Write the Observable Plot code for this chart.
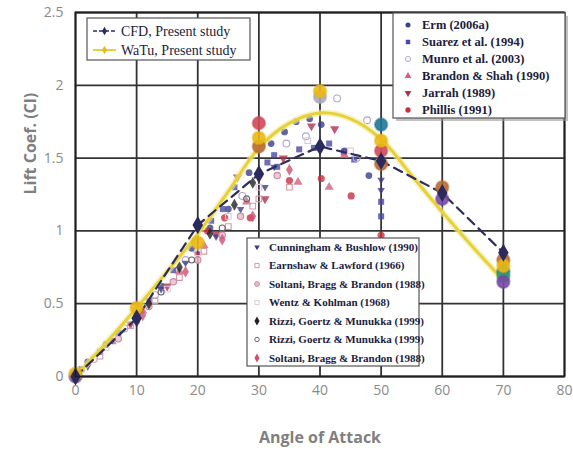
<!DOCTYPE html>
<html><head><meta charset="utf-8">
<script src="https://cdn.jsdelivr.net/npm/d3@7"></script>
<script src="https://cdn.jsdelivr.net/npm/@observablehq/plot@0.6"></script>
<style>body{margin:0;background:#fff}#chart{position:relative;width:573px;height:463px}</style>
</head><body><div id="chart"></div>
<script>
// ---- data (angle of attack, lift coefficient) ----
const xTicks = [0,10,20,30,40,50,60,70,80];
const yTicks = [0,0.5,1,1.5,2,2.5];

const cfd = [[0,0],[10,0.40],[20,1.04],[30,1.39],[40,1.58],[50,1.48],[60,1.26],[70,0.85]];
const watuCurve = [[0,0],[5,0.23],[10,0.47],[15,0.72],[20,0.98],[25,1.27],[30,1.57],[35,1.74],[40,1.81],[45,1.77],[50,1.63],[55,1.38],[60,1.13],[65,0.89],[70,0.66]];
const watuPts = [[0,0.02],[10,0.47],[20,0.92],[30,1.64],[40,1.96],[50,1.62],[70,0.76]];

const erm = [[2,0.1],[5,0.22],[10,0.45],[14,0.62],[19,0.88],[22,1.02],[25,1.15],[28.4,1.4],[32,1.6],[34.2,1.68],[36.1,1.75],[38.3,1.77],[40.2,1.73],[44,1.55],[48,1.38]];
const suarez = [[1,0.05],[4,0.17],[7,0.3],[12,0.52],[16,0.73],[22.2,1.07],[24.1,1.15],[26,1.3],[31.4,1.47],[32.5,1.52],[33,1.44],[36.6,1.56],[39,1.57],[41.5,1.6],[43.9,1.54],[45.6,1.49],[50,1.2],[50,1.1]];
const munro = [[3,0.12],[8,0.33],[13,0.56],[18,0.8],[27.3,1.24],[34.5,1.6],[37.7,1.65],[42.8,1.91],[46,1.5],[47.7,1.76]];
const brandon = [[6,0.24],[11,0.45],[17,0.72],[21,0.9],[28,1.2],[36.4,1.335],[41.5,1.3],[44,1.52]];
const jarrah = [[9,0.36],[15,0.62],[20,0.84],[23,0.98],[26.5,1.37],[31,1.22],[34,1.5],[38.6,1.72],[42.4,1.7]];
const phillis = [[21.6,1.0],[24.4,1.09],[28.6,1.09],[35,1.346],[40.2,1.36],[45.1,1.24],[50,0.97]];
const cunningham = [[2,0.07],[6,0.25],[10,0.42],[14,0.6],[18,0.78],[23,0.96],[27,1.15],[31,1.3],[32.5,1.44],[50,1.35],[50,1.28]];
const earnshaw = [[4,0.14],[9,0.35],[13,0.52],[17,0.68],[21,0.86],[25,1.03],[29,1.17],[30,1.22],[35,1.3]];
const soltani1 = [[7,0.26],[12,0.48],[16,0.65],[20,0.8],[24,0.97],[27,1.1],[33,1.38]];
const wentz = [[5,0.2],[10,0.38],[15,0.6],[20,0.85],[25,1.1],[30,1.3],[38,1.62],[45,1.55],[50,1.58]];
const rizzi1 = [[12,0.5],[17,0.75],[22,0.98],[26,1.18],[29,1.33]];
const rizzi2 = [[14,0.58],[19,0.8],[24,1.02],[28,1.22]];
const soltani2 = [[11,0.42],[18,0.72],[24,0.94],[29,1.1],[35,1.42]];

// large markers of other runs at the 10-degree stations
const runRed = [[30,1.74],[50,1.55]];
const runBrown = [[30,1.58],[50,1.46],[60,1.3],[70,0.8]];
const runTeal = [[50,1.73],[70,0.72]];
const runPurple = [[0,0],[60,1.22],[70,0.65]];
const runGray = [[40,1.92]];
const runGreen = [[70,0.69]];

const legendTop = ["Erm (2006a)","Suarez et al. (1994)","Munro et al. (2003)","Brandon & Shah (1990)","Jarrah (1989)","Phillis (1991)"];
const legendBottom = ["Cunningham & Bushlow (1990)","Earnshaw & Lawford (1966)","Soltani, Bragg & Brandon (1988)","Wentz & Kohlman (1968)","Rizzi, Goertz & Munukka (1999)","Rizzi, Goertz & Munukka (1999)","Soltani, Bragg & Brandon (1988)"];

// ---- styles ----
const S = {
  erm:{symbol:"circle",fill:"#3b3f8f",stroke:"none",r:3.4},
  suarez:{symbol:"square",fill:"#4848a6",stroke:"none",r:3.4},
  munro:{symbol:"circle",fill:"none",stroke:"#b6a6cc",r:3.4},
  brandon:{symbol:"triangle",fill:"#d2607e",stroke:"none",r:3.4},
  jarrah:{symbol:"triangle",fill:"#b03050",stroke:"none",r:3.4,rotate:180},
  phillis:{symbol:"circle",fill:"#c83040",stroke:"none",r:3.6},
  cunningham:{symbol:"triangle",fill:"#3e3e82",stroke:"none",r:2.8,rotate:180},
  earnshaw:{symbol:"square",fill:"none",stroke:"#d39aa6",r:3.2},
  soltani1:{symbol:"circle",fill:"#e8bccb",stroke:"#c98aa0",r:3.2},
  wentz:{symbol:"square",fill:"none",stroke:"#dcc8dc",r:3.2},
  rizzi1:{symbol:"diamond",fill:"#222",stroke:"none",r:3.6},
  rizzi2:{symbol:"circle",fill:"none",stroke:"#666",r:3},
  soltani2:{symbol:"diamond",fill:"#d05070",stroke:"none",r:3.6}
};
const sets = {erm,suarez,munro,brandon,jarrah,phillis,cunningham,earnshaw,soltani1,wentz,rizzi1,rizzi2,soltani2};
const keysTop = ["erm","suarez","munro","brandon","jarrah","phillis"];
const keysBottom = ["cunningham","earnshaw","soltani1","wentz","rizzi1","rizzi2","soltani2"];

const X = d => d[0], Y = d => d[1];
const scatter = Object.keys(sets).map(k => {
  const s = S[k];
  return Plot.dot(sets[k], {x:X, y:Y, symbol:s.symbol, fill:s.fill, stroke:s.stroke, r:s.r, rotate:s.rotate||0, strokeWidth:1.1, fillOpacity:0.8});
});
const big = (arr, color) => Plot.dot(arr, {x:X, y:Y, r:6.3, fill:color, stroke:color, strokeOpacity:0.5, strokeWidth:2, fillOpacity:0.9});

const chart = Plot.plot({
  width:573, height:463,
  marginLeft:75, marginRight:9, marginTop:12, marginBottom:87,
  style:{fontFamily:"'Open Sans', sans-serif", background:"#fff"},
  x:{domain:[0,80]},
  y:{domain:[0,2.5]},
  marks:[
    Plot.gridX(xTicks, {stroke:"#333", strokeOpacity:1, strokeWidth:1.8}),
    Plot.gridY(yTicks, {stroke:"#333", strokeOpacity:1, strokeWidth:1.8}),
    ...scatter,
    Plot.line(watuCurve, {x:X, y:Y, stroke:"#f2eaa0", strokeWidth:6.5, strokeOpacity:0.6, curve:"catmull-rom"}),
    Plot.line(watuCurve, {x:X, y:Y, stroke:"#e6d237", strokeWidth:3, curve:"catmull-rom"}),
    Plot.line(cfd, {x:X, y:Y, stroke:"#2c2c5e", strokeWidth:2.2, strokeDasharray:"9,6"}),
    big(runRed, "#d24858"),
    big(runBrown, "#b86a30"),
    big(runTeal, "#1f7896"),
    big(runGreen, "#3a9a72"),
    big(runPurple, "#7449a2"),
    big(runGray, "#a9a9ba"),
    big(watuPts, "#eab814"),
    Plot.dot(cfd, {x:X, y:Y, symbol:"diamond", r:5.5, fill:"#2c2a5c"}),
    Plot.frame({stroke:"#1e1e1e", strokeWidth:1.8}),
    Plot.axisX(xTicks, {tickSize:0, tickPadding:9, fontSize:14, color:"#8a8a8a", label:null, tickFormat:d=>String(d)}),
    Plot.axisY(yTicks, {tickSize:0, tickPadding:12, fontSize:14, color:"#8a8a8a", label:null, tickFormat:d=>String(d)}),
    Plot.text(["Angle of Attack"], {frameAnchor:"bottom", dy:66, fontSize:16, fontWeight:"bold", fill:"#7f7f7f"}),
    Plot.text(["Lift Coef. (Cl)"], {frameAnchor:"left", dx:-45, rotate:-90, fontSize:16, fontWeight:"bold", fill:"#7f7f7f"})
  ]
});
document.getElementById("chart").appendChild(chart);

// ---- legends ----
const svg = d3.select(chart);
const serif = "'Liberation Serif', 'Times New Roman', serif";
function symbolPath(s){
  const t = {circle:d3.symbolCircle, square:d3.symbolSquare, triangle:d3.symbolTriangle, diamond:d3.symbolDiamond}[s.symbol];
  return d3.symbol(t, Math.PI*s.r*s.r*0.55)();
}
function label(g, x, y, t, size, bold){
  g.append("text").attr("x",x).attr("y",y).attr("dy","0.35em").attr("text-anchor","start")
    .attr("font-family",serif).attr("font-weight",bold?"bold":"normal").attr("font-size",size).attr("fill","#1c1c3c").text(t);
}
// legend 1
const g1 = svg.append("g");
g1.append("rect").attr("x",87).attr("y",18).attr("width",163).attr("height",42).attr("fill","#fff").attr("stroke","#555").attr("stroke-width",1.2);
g1.append("line").attr("x1",93).attr("x2",116).attr("y1",31).attr("y2",31).attr("stroke","#2c2c5e").attr("stroke-width",1.6).attr("stroke-dasharray","4,2");
g1.append("path").attr("d",d3.symbol(d3.symbolDiamond,22)()).attr("transform","translate(104.5,31)").attr("fill","#2c2c5e");
g1.append("line").attr("x1",93).attr("x2",116).attr("y1",50).attr("y2",50).attr("stroke","#e6d237").attr("stroke-width",2);
g1.append("path").attr("d",d3.symbol(d3.symbolDiamond,22)()).attr("transform","translate(104.5,50)").attr("fill","#e9b820");
label(g1, 121, 31, "CFD, Present study", 14, false);
label(g1, 121, 50, "WaTu, Present study", 14, false);
// legend 2
const g2 = svg.append("g");
g2.append("rect").attr("x",396).attr("y",16).attr("width",172).attr("height",105).attr("fill","#9a9a9a").attr("opacity",0.6);
g2.append("rect").attr("x",393).attr("y",13).attr("width",172).attr("height",105).attr("fill","#fff").attr("stroke","#555").attr("stroke-width",1.2);
keysTop.forEach((k,i)=>{
  const y = 25 + i*17, s = S[k];
  g2.append("path").attr("d",symbolPath(s)).attr("transform",`translate(408,${y}) rotate(${s.rotate||0})`).attr("fill",s.fill).attr("stroke",s.stroke);
  label(g2, 422, y, legendTop[i], 12.5, true);
});
// legend 3
const g3 = svg.append("g");
g3.append("rect").attr("x",247).attr("y",238).attr("width",172).attr("height",128).attr("fill","#fff").attr("stroke","#555").attr("stroke-width",1.2);
keysBottom.forEach((k,i)=>{
  const y = 247 + i*18.5, s = S[k];
  g3.append("path").attr("d",symbolPath(s)).attr("transform",`translate(257,${y}) rotate(${s.rotate||0})`).attr("fill",s.fill).attr("stroke",s.stroke);
  label(g3, 269, y, legendBottom[i], 11, true);
});
</script></body></html>
